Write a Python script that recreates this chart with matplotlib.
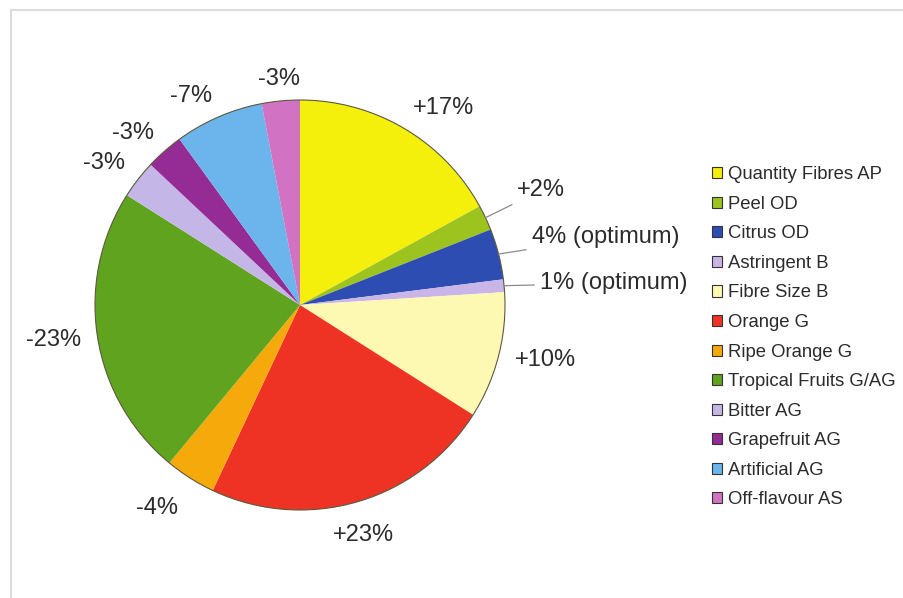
import numpy as np
import matplotlib
matplotlib.use("Agg")
import matplotlib.pyplot as plt
from matplotlib.patches import Patch, Circle
from matplotlib.lines import Line2D

plt.rcParams['font.family'] = ['Liberation Sans', 'DejaVu Sans']

# attributes, clockwise from 12 o'clock
attributes = ['Quantity Fibres AP', 'Peel OD', 'Citrus OD', 'Astringent B',
              'Fibre Size B', 'Orange G', 'Ripe Orange G', 'Tropical Fruits G/AG',
              'Bitter AG', 'Grapefruit AG', 'Artificial AG', 'Off-flavour AS']
shares = [17, 2, 4, 1, 10, 23, 4, 23, 3, 3, 7, 3]
signs = ['+', '+', '', '', '+', '+', '-', '-', '-', '-', '-', '-']
suffix = ['', '', ' (optimum)', ' (optimum)', '', '', '', '', '', '', '', '']
colors = ['#f5ef0c', '#9cc31e', '#2d4db3', '#c9b5e8', '#fdf8b2', '#ee3325',
          '#f6a90a', '#60a31e', '#c4b7e7', '#952b94', '#6cb5ec', '#d173c2']

labels = [f'{s}{v}%{x}' for s, v, x in zip(signs, shares, suffix)]

fig = plt.figure(figsize=(9.04, 5.98), dpi=100)

# faint frame of the scanned page
fig.add_artist(Line2D([11 / 904, 1], [1 - 10 / 598] * 2, color='#dcdcdc', lw=1.5))
fig.add_artist(Line2D([11 / 904] * 2, [0, 1 - 10 / 598], color='#dcdcdc', lw=1.5))

cx, cy, r = 300, 305, 205
ax = fig.add_axes([(cx - r) / 904, (598 - cy - r) / 598, 2 * r / 904, 2 * r / 598])

wedges, _ = ax.pie(shares, colors=colors, startangle=90, counterclock=False,
                   radius=1, wedgeprops=dict(linewidth=0, clip_on=False))
ax.add_patch(Circle((0, 0), 1, fill=False, ec='#5a5a40', lw=0.8, clip_on=False))
ax.set_xlim(-1, 1)
ax.set_ylim(-1, 1)
ax.set_aspect('equal')
ax.axis('off')

txt_col = '#2b2b2b'
# small slices on the right get leader lines
leader_text = {1: (1.06, 0.56), 2: (1.13, 0.33), 3: (1.17, 0.107)}
for i, w in enumerate(wedges):
    mid = np.deg2rad((w.theta1 + w.theta2) / 2)
    c, s = np.cos(mid), np.sin(mid)
    if i in leader_text:
        ax.annotate(labels[i], xy=(c, s), xytext=leader_text[i],
                    ha='left', va='center', fontsize=17, color=txt_col,
                    arrowprops=dict(arrowstyle='-', color='#8a8a8a', lw=0.9,
                                    shrinkA=2, shrinkB=0))
    else:
        # anchor the label corner that faces the pie just outside the rim
        ha = 'left' if c > 0.35 else ('right' if c < -0.35 else 'center')
        va = 'baseline' if s > 0.5 else ('top' if s < -0.5 else 'center')
        d = 1.11 if s < -0.5 else 1.08
        ax.text(d * c, d * s, labels[i], ha=ha, va=va,
                fontsize=17, color=txt_col)

handles = [Patch(facecolor=c, edgecolor='#333333', lw=0.8) for c in colors]
fig.legend(handles, attributes, loc='upper left',
           bbox_to_anchor=(703 / 904, 1 - 157 / 598), frameon=False,
           fontsize=13.3, handlelength=0.55, handleheight=0.55,
           handletextpad=0.3, labelspacing=0.68, borderpad=0,
           labelcolor=txt_col)

fig.savefig('out.png', dpi=100, facecolor='white')
